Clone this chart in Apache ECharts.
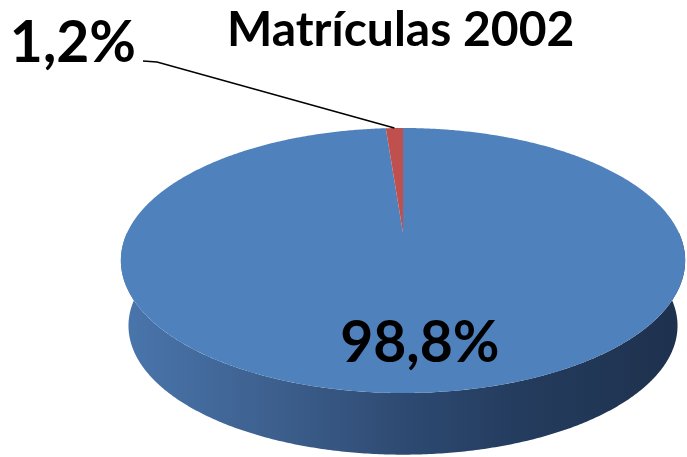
<!DOCTYPE html>
<html>
<head>
<meta charset="utf-8">
<script src="https://cdn.jsdelivr.net/npm/echarts@6/dist/echarts.min.js"></script>
<style>
  html, body { margin: 0; padding: 0; background: #fff; }
  #grafico { width: 687px; height: 457px; }
</style>
</head>
<body>
<div id="grafico"></div>
<script>
// dados do gráfico
const titulo = 'Matrículas 2002';
const categorias = ['Categoria 1', 'Categoria 2'];
const valores = [98.8, 1.2];

const coresTopo = ['#4f81bd', '#c0504d'];

// geometria da pizza 3D (perspectiva)
const CX = 403, CY = 233, RX = 276, RY = 126.8, K = 0.2075;
const PROF = 66, ESC_BASE = 0.973;

function projeta(theta, r, base) {
    let u = Math.sin(theta) * r;
    let v = -Math.cos(theta) * r;
    let w = 1 - K * v;
    let s = base ? ESC_BASE : 1;
    return [CX + s * RX * u / w, CY + (base ? PROF : 0) + s * RY * v / w];
}

function arco(a0, a1, r, base) {
    let pts = [];
    let n = Math.max(2, Math.ceil((a1 - a0) / (Math.PI / 360)));
    for (let k = 0; k <= n; k++) {
        pts.push(projeta(a0 + (a1 - a0) * k / n, r, base));
    }
    return pts;
}

function rotulo(v) {
    return v.toFixed(1).replace('.', ',') + '%';
}

let total = valores.reduce((a, b) => a + b, 0);

function renderFatia(params, api) {
    let i = params.dataIndex;
    let inicio = 0;
    for (let j = 0; j < i; j++) inicio += valores[j];
    let a0 = inicio / total * Math.PI * 2;
    let a1 = (inicio + api.value(0)) / total * Math.PI * 2;
    let filhos = [];

    // lateral (apenas a parte da frente)
    let s0 = Math.max(a0, Math.PI / 2), s1 = Math.min(a1, Math.PI * 1.5);
    if (s1 > s0) {
        let pts = arco(s0, s1, 1, false).concat(arco(s0, s1, 1, true).reverse());
        filhos.push({
            type: 'polygon',
            z2: 1,
            shape: { points: pts },
            style: {
                fill: {
                    type: 'linear', global: true,
                    x: 121, y: 0, x2: 685, y2: 0,
                    colorStops: [
                        { offset: 0, color: '#4a76ad' },
                        { offset: 0.3, color: '#3b5d8a' },
                        { offset: 0.5, color: '#2e4a72' },
                        { offset: 0.7, color: '#243c5e' },
                        { offset: 1, color: '#1e314d' }
                    ]
                }
            }
        });
    }

    // topo
    let topo = [projeta(0, 0, false)].concat(arco(a0, a1, 1, false));
    filhos.push({
        type: 'polygon',
        z2: 10,
        shape: { points: topo },
        style: { fill: coresTopo[i] }
    });

    let meio = (a0 + a1) / 2;
    if (i === 0) {
        let p = projeta(meio, 0.72, false);
        filhos.push({
            type: 'text', z2: 20, x: p[0] + 8, y: p[1] + 3,
            style: {
                text: rotulo(api.value(0)), fill: '#000',
                font: 'bold 57px Lato', align: 'center', verticalAlign: 'middle'
            }
        });
    } else {
        let p = projeta(meio, 1, false);
        filhos.push({
            type: 'polyline', z2: 20,
            shape: { points: [p, [157, 62], [143, 61]] },
            style: { stroke: '#000', lineWidth: 1.5, fill: null }
        });
        filhos.push({
            type: 'text', z2: 20, x: 136, y: 44,
            style: {
                text: rotulo(api.value(0)), fill: '#000',
                font: 'bold 57px Lato', align: 'right', verticalAlign: 'middle'
            }
        });
    }
    return { type: 'group', children: filhos };
}

let myChart = echarts.init(document.getElementById('grafico'));
let option = {
    animation: false,
    title: {
        text: titulo,
        left: 222,
        top: 2,
        textStyle: { fontFamily: 'Lato', fontWeight: 'bold', fontSize: 48, color: '#000' }
    },
    series: [{
        type: 'custom',
        coordinateSystem: 'none',
        renderItem: renderFatia,
        data: categorias.map((c, i) => ({ name: c, value: valores[i] }))
    }]
};
myChart.setOption(option);
</script>
</body>
</html>
